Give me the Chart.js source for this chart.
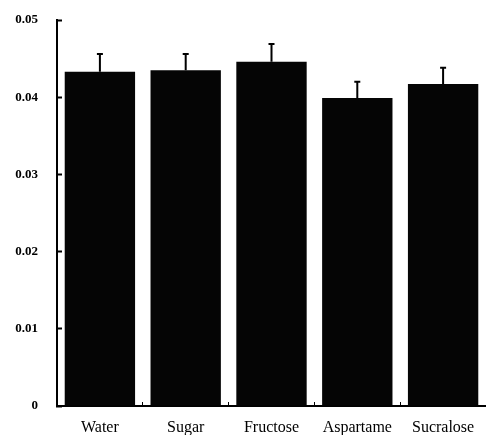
<!DOCTYPE html>
<html>
<head>
<meta charset="utf-8">
<script src="https://cdn.jsdelivr.net/npm/chart.js@4"></script>
<style>
  html, body { margin: 0; padding: 0; background: #fff; }
  #wrap { width: 486px; height: 435px; }
</style>
</head>
<body>
<div id="wrap"><canvas id="bar-chart"></canvas></div>
<script>
// values
const categories = ['Water', 'Sugar', 'Fructose', 'Aspartame', 'Sucralose'];
const means = [0.0433, 0.0435, 0.0446, 0.0399, 0.0417];
const errors = [0.0023, 0.0021, 0.0023, 0.0021, 0.0021];
const yTicks = [0, 0.01, 0.02, 0.03, 0.04, 0.05];

// draw the upper error bar of each bar
const errorBars = {
    id: 'errorBars',
    afterDatasetsDraw(chart) {
        const ctx = chart.ctx;
        const meta = chart.getDatasetMeta(0);
        const y = chart.scales.y;
        ctx.save();
        ctx.strokeStyle = '#000';
        ctx.lineWidth = 2;
        meta.data.forEach(function (bar, i) {
            const top = y.getPixelForValue(means[i] + errors[i]);
            const base = y.getPixelForValue(means[i]);
            ctx.beginPath();
            ctx.moveTo(bar.x, base);
            ctx.lineTo(bar.x, top);
            ctx.moveTo(bar.x - 3, top);
            ctx.lineTo(bar.x + 3, top);
            ctx.stroke();
        });
        ctx.restore();
    }
};

let ctx = document.getElementById('bar-chart').getContext('2d');
new Chart(ctx, {
    type: 'bar',
    data: {
        labels: categories,
        datasets: [{
            data: means,
            backgroundColor: '#050505',
            borderWidth: 0,
            barPercentage: 0.82,
            categoryPercentage: 1
        }]
    },
    options: {
        responsive: true,
        maintainAspectRatio: false,
        animation: false,
        layout: { padding: 0 },
        plugins: {
            legend: { display: false },
            tooltip: { enabled: false }
        },
        scales: {
            x: {
                offset: true,
                afterFit: function (s) {
                    s.height = 29;
                    s.paddingLeft = 0;
                    s.paddingRight = 0;
                },
                border: { color: '#000', width: 2 },
                grid: { offset: true, drawOnChartArea: false, tickLength: -4, color: '#000', tickWidth: 1 },
                ticks: {
                    color: '#000',
                    padding: 16,
                    font: { family: 'Liberation Serif', size: 16 }
                }
            },
            y: {
                min: 0,
                max: 0.05,
                afterFit: function (s) {
                    s.width = 57;
                    s.paddingTop = 20;
                    s.paddingBottom = 0;
                },
                afterBuildTicks: function (s) { s.ticks = yTicks.map(v => ({ value: v })); },
                border: { color: '#000', width: 2 },
                grid: { drawOnChartArea: false, tickLength: -5, color: '#000', tickWidth: 2 },
                ticks: {
                    color: '#000',
                    padding: 24,
                    font: { family: 'Liberation Serif', size: 13, weight: 'bold' },
                    callback: function (v) { return v === 0 ? '0' : v.toFixed(2); }
                }
            }
        }
    },
    plugins: [errorBars]
});
</script>
</body>
</html>
